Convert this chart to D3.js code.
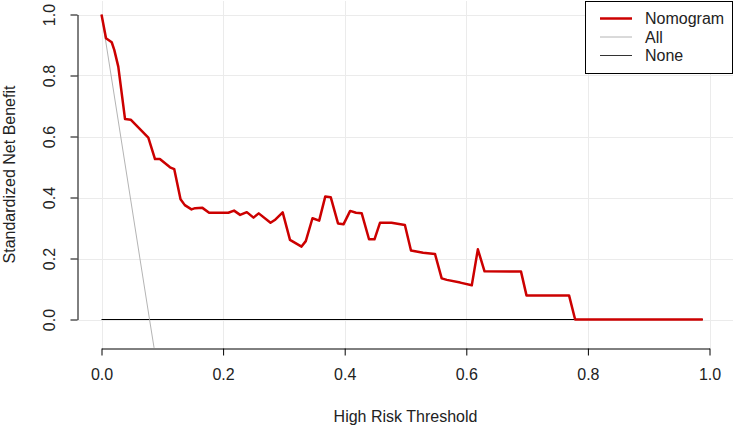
<!DOCTYPE html>
<html>
<head>
<meta charset="utf-8">
<script src="https://cdn.jsdelivr.net/npm/d3@7"></script>
<style>
  html, body { margin: 0; padding: 0; background: #fff; }
  svg { display: block; font-family: Arial, "Liberation Sans", sans-serif; }
</style>
</head>
<body>
<svg id="chart" width="734" height="428"></svg>
<script>
// ---- Data ----
const nomogramThreshold = [0, 0.0074, 0.0168, 0.021, 0.0276, 0.0387, 0.048, 0.077, 0.088, 0.096,
  0.1127, 0.1197, 0.130, 0.137, 0.148, 0.154, 0.166, 0.177, 0.2086, 0.218,
  0.228, 0.239, 0.250, 0.2586, 0.278, 0.285, 0.298, 0.310, 0.329, 0.336,
  0.347, 0.358, 0.368, 0.377, 0.389, 0.398, 0.409, 0.4186, 0.428, 0.440,
  0.449, 0.458, 0.477, 0.499, 0.509, 0.529, 0.5485, 0.5595, 0.568, 0.590,
  0.609, 0.619, 0.630, 0.690, 0.699, 0.769, 0.779, 0.989];
const nomogramBenefit = [1.0, 0.922, 0.909, 0.884, 0.829, 0.657, 0.655, 0.596, 0.526, 0.526,
  0.499, 0.493, 0.394, 0.375, 0.361, 0.365, 0.366, 0.350, 0.350, 0.357,
  0.343, 0.352, 0.334, 0.348, 0.317, 0.326, 0.351, 0.261, 0.239, 0.257,
  0.332, 0.324, 0.403, 0.401, 0.315, 0.312, 0.356, 0.350, 0.348, 0.263,
  0.263, 0.317, 0.317, 0.310, 0.226, 0.219, 0.215, 0.135, 0.130, 0.121,
  0.112, 0.230, 0.158, 0.157, 0.079, 0.079, 0.0, 0.0];
const allThreshold = [0, 0.079, 0.0865];
const allBenefit = [1.0, 0.0, -0.093];
const noneThreshold = [0, 0.989];
const noneBenefit = [0, 0];
const xTicks = [0, 0.2, 0.4, 0.6, 0.8, 1.0];
const yTicks = [0, 0.2, 0.4, 0.6, 0.8, 1.0];
const legendLabels = ["Nomogram", "All", "None"];
const legendColors = ["#cc0000", "#b4b4b4", "#333333"];
const legendWidths = [2.5, 1, 1];

// ---- Layout ----
const svg = d3.select("#chart");
const plot = { left: 77, right: 733, top: 1, bottom: 348 };
const x = d3.scaleLinear().domain([0, 1]).range([101.5, 709.5]);
const y = d3.scaleLinear().domain([0, 1]).range([319.5, 14.5]);
const fmt = d3.format(".1f");
const textColor = "#222";

svg.append("defs").append("clipPath").attr("id", "clip")
  .append("rect").attr("x", plot.left).attr("y", plot.top)
  .attr("width", plot.right - plot.left).attr("height", plot.bottom - plot.top);

// grid
const grid = svg.append("g").attr("stroke", "#ebebeb").attr("stroke-width", 1);
grid.selectAll("line.v").data(xTicks).join("line")
  .attr("x1", d => Math.round(x(d)) + 0.5).attr("x2", d => Math.round(x(d)) + 0.5)
  .attr("y1", plot.top).attr("y2", plot.bottom);
grid.selectAll("line.h").data(yTicks).join("line")
  .attr("y1", d => Math.round(y(d)) + 0.5).attr("y2", d => Math.round(y(d)) + 0.5)
  .attr("x1", plot.left).attr("x2", plot.right);

// axes
const xAxis = svg.append("g").attr("transform", `translate(0,${plot.bottom + 0.5})`)
  .call(d3.axisBottom(x).tickValues(xTicks).tickFormat(fmt).tickSizeOuter(0).tickSizeInner(7).tickPadding(14));
const yAxis = svg.append("g").attr("transform", `translate(${plot.left + 0.5},0)`)
  .call(d3.axisLeft(y).tickValues(yTicks).tickFormat(fmt).tickSizeOuter(0).tickSizeInner(7));
[xAxis, yAxis].forEach(a => {
  a.select(".domain").attr("stroke", "#000");
  a.selectAll(".tick line").attr("stroke", "#000");
  a.selectAll("text").attr("font-size", 16).attr("fill", textColor)
    .attr("font-family", "Arial, 'Liberation Sans', sans-serif");
});
xAxis.selectAll(".tick text").attr("dy", "0.71em").attr("y", 20);
yAxis.selectAll(".tick text")
  .attr("x", null).attr("dy", null)
  .attr("text-anchor", "middle")
  .attr("transform", "translate(-23,0) rotate(-90)")
  .attr("y", 0);

// axis titles
svg.append("text").attr("x", (x(0) + x(1)) / 2).attr("y", 422)
  .attr("text-anchor", "middle").attr("font-size", 16).attr("fill", textColor)
  .text("High Risk Threshold");
svg.append("text")
  .attr("transform", `translate(15,${(plot.top + plot.bottom) / 2}) rotate(-90)`)
  .attr("text-anchor", "middle").attr("font-size", 16).attr("fill", textColor)
  .text("Standardized Net Benefit");

// lines
const lines = svg.append("g").attr("clip-path", "url(#clip)");
const lineGen = d3.line().x(d => x(d[0])).y(d => y(d[1]));
lines.append("path").datum(d3.zip(noneThreshold, noneBenefit))
  .attr("d", lineGen).attr("fill", "none").attr("stroke", "#000").attr("stroke-width", 1);
lines.append("path").datum(d3.zip(allThreshold, allBenefit))
  .attr("d", lineGen).attr("fill", "none").attr("stroke", "#b4b4b4").attr("stroke-width", 1);
lines.append("path").datum(d3.zip(nomogramThreshold, nomogramBenefit))
  .attr("d", lineGen).attr("fill", "none").attr("stroke", "#cc0000").attr("stroke-width", 2.5)
  .attr("stroke-linejoin", "round");

// legend
const lg = svg.append("g");
lg.append("rect").attr("x", 585.5).attr("y", 1.5).attr("width", 147).attr("height", 72)
  .attr("fill", "#fff").attr("stroke", "#000").attr("stroke-width", 1);
legendLabels.forEach((lab, i) => {
  const yy = 18.5 + i * 18.5;
  lg.append("line").attr("x1", 600).attr("x2", 632).attr("y1", yy).attr("y2", yy)
    .attr("stroke", legendColors[i]).attr("stroke-width", legendWidths[i]);
  lg.append("text").attr("x", 645).attr("y", yy).attr("dy", "0.35em")
    .attr("font-size", 16).attr("fill", textColor).text(lab);
});
</script>
</body>
</html>
